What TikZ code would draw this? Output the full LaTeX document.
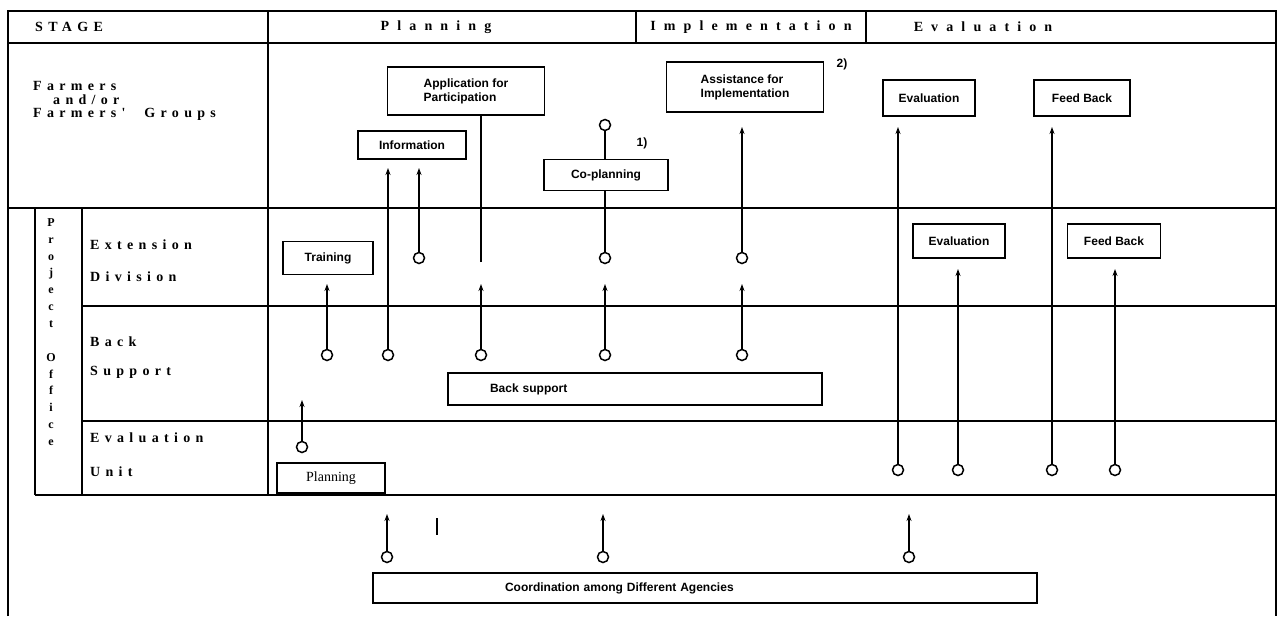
\documentclass[tikz,border=0pt]{standalone}
\usepackage{fontspec}
\setmainfont{Liberation Serif}
\newfontfamily\boxfont{Liberation Sans}
\newfontfamily\headfont[LetterSpace=58]{Liberation Serif}
\newfontfamily\rowfont[LetterSpace=38]{Liberation Serif}
\usetikzlibrary{arrows.meta}

\begin{document}
\begin{tikzpicture}[x=1pt,y=-1pt,
    rule/.style={line width=1.3pt},
    frame/.style={line width=1.9pt},
    box/.style={draw,line width=1.7pt,inner sep=0pt,align=center,
      font=\boxfont\bfseries\fontsize{12}{14}\selectfont},
    port/.style={circle,draw,line width=1.5pt,fill=white,minimum size=11pt,inner sep=0pt},
    link/.style={line width=2.2pt,-{Stealth[length=7pt,width=5pt]}},
    plain/.style={line width=2.2pt},
    head/.style={font=\headfont\bfseries\fontsize{14}{16}\selectfont},
    row/.style={anchor=west,inner sep=0pt,font=\rowfont\bfseries\fontsize{14}{16}\selectfont},
    note/.style={font=\boxfont\bfseries\fontsize{12}{14}\selectfont}]

    \useasboundingbox (0,0) rectangle (1280,616);

    % table rules
    \draw[frame] (8,616) -- (8,11) -- (1276,11) -- (1276,616);
    \draw[rule] (8,43) -- (1276,43);
    \draw[rule] (8,208) -- (1276,208);
    \draw[rule] (82,306) -- (1276,306);
    \draw[rule] (82,421) -- (1276,421);
    \draw[rule] (35,495) -- (1276,495);
    \draw[frame] (268,11) -- (268,495);
    \draw[frame] (636,11) -- (636,43);
    \draw[frame] (866,11) -- (866,43);
    \draw[frame] (35,208) -- (35,495);
    \draw[frame] (82,208) -- (82,495);

    % headings
    \node[row] (stage) at (35,27) {STAGE};
    \node[head] (hplan) at (436,27) {Planning};
    \node[head] (himpl) at (751,27) {Implementation};
    \node[head] (heval) at (983,27) {Evaluation};

    \node[row] (farm1) at (33,86) {Farmers};
    \node[row] (farm2) at (53,100) {and/or};
    \node[row] (farm3) at (33,114) {Farmers'\hspace{10pt} Groups};

    \node[inner sep=0pt,align=center,font=\bfseries\fontsize{12}{16.85}\selectfont]
        (po) at (51,332) {P\\r\\o\\j\\e\\c\\t\\[16.85pt]O\\f\\f\\i\\c\\e};

    \node[row] (ext1) at (90,245) {Extension};
    \node[row] (ext2) at (90,277) {Division};
    \node[row] (bs1) at (90,342) {Back};
    \node[row] (bs2) at (90,372) {Support};
    \node[row] (eu1) at (90,438) {Evaluation};
    \node[row] (eu2) at (90,472) {Unit};

    % boxes
    \node[box,minimum width=108,minimum height=28] (info) at (412,145) {Information};
    \node[box,minimum width=157,minimum height=48,align=left] (apply) at (466,91) {Application for\\Participation};
    \node[box,minimum width=157,minimum height=50,align=left] (assist) at (745,87) {Assistance for\\Implementation};
    \node[box,minimum width=124,minimum height=31] (coplan) at (606,175) {Co-planning};
    \node[box,minimum width=92,minimum height=36] (evalf) at (929,98) {Evaluation};
    \node[box,minimum width=96,minimum height=36] (feedf) at (1082,98) {Feed Back};
    \node[box,minimum width=90,minimum height=33] (train) at (328,258) {Training};
    \node[box,minimum width=92,minimum height=34] (evale) at (959,241) {Evaluation};
    \node[box,minimum width=93,minimum height=34] (feede) at (1114,241) {Feed Back};
    \node[box,minimum height=32,inner xsep=42pt,text width=290pt,align=left] (back) at (635,389) {Back support};
    \node[box,minimum width=108,minimum height=30,font=\fontsize{14}{16}\selectfont] (plan) at (331,478) {Planning};
    \node[box,minimum height=30,inner xsep=132pt,text width=400pt,align=left] (coord) at (705,588) {Coordination among Different Agencies};

    \node[note] (n1) at (642,143) {1)};
    \node[note] (n2) at (842,64) {2)};

    % ports
    \node[port] (t1) at (327,355) {};
    \node[port] (i1) at (388,355) {};
    \node[port] (i2) at (419,258) {};
    \node[port] (a1) at (481,355) {};
    \node[port] (c0) at (605,125) {};
    \node[port] (c1) at (605,258) {};
    \node[port] (c2) at (605,355) {};
    \node[port] (s1) at (742,258) {};
    \node[port] (s2) at (742,355) {};
    \node[port] (e1) at (898,470) {};
    \node[port] (e2) at (958,470) {};
    \node[port] (f1) at (1052,470) {};
    \node[port] (f2) at (1115,470) {};
    \node[port] (p1) at (302,447) {};
    \node[port] (l1) at (387,557) {};
    \node[port] (l2) at (603,557) {};
    \node[port] (l3) at (909,557) {};

    % arrow tips
    \coordinate (t1x) at (327,284);
    \coordinate (i1x) at (388,168);
    \coordinate (i2x) at (419,168);
    \coordinate (a1x) at (481,284);
    \coordinate (a0) at (481,262);
    \coordinate (c2x) at (605,284);
    \coordinate (s1x) at (742,127);
    \coordinate (s2x) at (742,284);
    \coordinate (e1x) at (898,127);
    \coordinate (f1x) at (1052,127);
    \coordinate (e2x) at (958,269);
    \coordinate (f2x) at (1115,269);
    \coordinate (p1x) at (302,400);
    \coordinate (l1x) at (387,514);
    \coordinate (l2x) at (603,514);
    \coordinate (l3x) at (909,514);
    \coordinate (m1) at (437,518);
    \coordinate (m2) at (437,535);

    % connectors
    \draw[link] (t1) -- (t1x);
    \draw[link] (i1) -- (i1x);
    \draw[link] (i2) -- (i2x);
    \draw[link] (a1) -- (a1x);
    \draw[plain] (a0) -- (a0 |- apply.south);
    \draw[plain] (c0) -- (c0 |- coplan.north);
    \draw[plain] (c1 |- coplan.south) -- (c1);
    \draw[link] (c2) -- (c2x);
    \draw[link] (s1) -- (s1x);
    \draw[link] (s2) -- (s2x);
    \draw[link] (e1) -- (e1x);
    \draw[link] (f1) -- (f1x);
    \draw[link] (e2) -- (e2x);
    \draw[link] (f2) -- (f2x);
    \draw[link] (p1) -- (p1x);
    \draw[link] (l1) -- (l1x);
    \draw[link] (l2) -- (l2x);
    \draw[link] (l3) -- (l3x);
    \draw[line width=1.4pt] (m1) -- (m2);

\end{tikzpicture}
\end{document}
